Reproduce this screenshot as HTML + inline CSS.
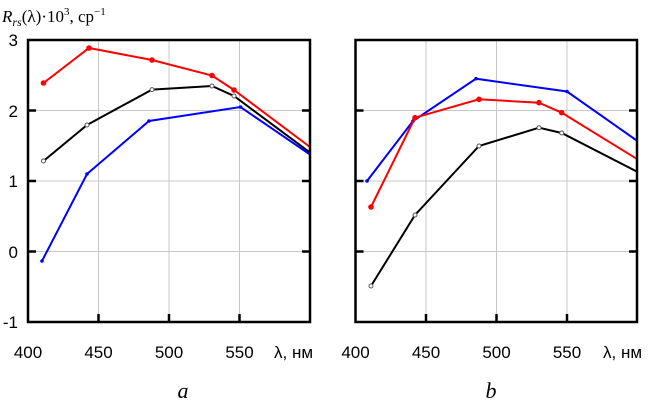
<!DOCTYPE html>
<html><head><meta charset="utf-8"><style>
html,body{margin:0;padding:0;background:#fff}
svg{display:block}
.s{font-family:"Liberation Sans",sans-serif}
.r{font-family:"Liberation Serif",serif}
</style></head><body>
<svg width="649" height="406" viewBox="0 0 649 406" xmlns="http://www.w3.org/2000/svg">
<!-- Panel a -->
<g>
<g stroke="#c8c8c8" stroke-width="1">
<line x1="98.5" y1="40" x2="98.5" y2="322"/><line x1="169" y1="40" x2="169" y2="322"/><line x1="239.5" y1="40" x2="239.5" y2="322"/>
<line x1="28" y1="110.5" x2="310" y2="110.5"/><line x1="28" y1="181" x2="310" y2="181"/><line x1="28" y1="251.5" x2="310" y2="251.5"/>
</g>
<g stroke="#000" stroke-width="2.5">
<line x1="28" y1="110.5" x2="36" y2="110.5"/><line x1="28" y1="181" x2="36" y2="181"/><line x1="28" y1="251.5" x2="36" y2="251.5"/>
<line x1="302" y1="110.5" x2="310" y2="110.5"/><line x1="302" y1="181" x2="310" y2="181"/><line x1="302" y1="251.5" x2="310" y2="251.5"/>
<line x1="98.5" y1="314" x2="98.5" y2="322"/><line x1="169" y1="314" x2="169" y2="322"/><line x1="239.5" y1="314" x2="239.5" y2="322"/>
</g>
<polyline fill="none" stroke="#f00" stroke-width="2" points="43.5,83 89,48 152,60 212,75.5 234,90 310,147"/>
<g fill="#f00"><circle cx="43.5" cy="83" r="2.8"/><circle cx="89" cy="48" r="2.8"/><circle cx="152" cy="60" r="2.8"/><circle cx="212" cy="75.5" r="2.8"/><circle cx="234" cy="90" r="2.8"/></g>
<polyline fill="none" stroke="#000" stroke-width="2" points="43.5,161 87,125 152,89.6 212,86 234,96 310,152.5"/>
<g fill="#fff" stroke="#555" stroke-width="1"><circle cx="43.5" cy="161" r="2"/><circle cx="87" cy="125" r="2"/><circle cx="152" cy="89.6" r="2"/><circle cx="212" cy="86" r="2"/><circle cx="234" cy="96" r="2"/></g>
<polyline fill="none" stroke="#00f" stroke-width="2" points="42,261 87,174 149,121 240.5,107 310,154.5"/>
<g fill="#00f"><circle cx="42" cy="261" r="1.8"/><circle cx="87" cy="174" r="1.8"/><circle cx="149" cy="121" r="1.8"/><circle cx="240.5" cy="107" r="1.8"/></g>
<rect x="28" y="40" width="282" height="282" fill="none" stroke="#000" stroke-width="2.5"/>
</g>
<!-- Panel b -->
<g>
<g stroke="#c8c8c8" stroke-width="1">
<line x1="426" y1="40" x2="426" y2="322"/><line x1="496.5" y1="40" x2="496.5" y2="322"/><line x1="567" y1="40" x2="567" y2="322"/>
<line x1="355.5" y1="110.5" x2="637" y2="110.5"/><line x1="355.5" y1="181" x2="637" y2="181"/><line x1="355.5" y1="251.5" x2="637" y2="251.5"/>
</g>
<g stroke="#000" stroke-width="2.5">
<line x1="355.5" y1="110.5" x2="363.5" y2="110.5"/><line x1="355.5" y1="181" x2="363.5" y2="181"/><line x1="355.5" y1="251.5" x2="363.5" y2="251.5"/>
<line x1="629" y1="110.5" x2="637" y2="110.5"/><line x1="629" y1="181" x2="637" y2="181"/><line x1="629" y1="251.5" x2="637" y2="251.5"/>
<line x1="426" y1="314" x2="426" y2="322"/><line x1="496.5" y1="314" x2="496.5" y2="322"/><line x1="567" y1="314" x2="567" y2="322"/>
</g>
<polyline fill="none" stroke="#00f" stroke-width="2" points="367,181 413,121 476,78.7 567,91.5 637,140.7"/>
<g fill="#00f"><circle cx="367" cy="181" r="1.8"/><circle cx="413" cy="121" r="1.8"/><circle cx="476" cy="78.7" r="1.8"/><circle cx="567" cy="91.5" r="1.8"/></g>
<polyline fill="none" stroke="#f00" stroke-width="2" points="371,207 415,117.7 479,99.3 539,102.7 561.7,112.7 637,159"/>
<g fill="#f00"><circle cx="371" cy="207" r="2.8"/><circle cx="415" cy="117.7" r="2.8"/><circle cx="479" cy="99.3" r="2.8"/><circle cx="539" cy="102.7" r="2.8"/><circle cx="561.7" cy="112.7" r="2.8"/></g>
<polyline fill="none" stroke="#000" stroke-width="2" points="371,286 415,215 479,146 539,127.7 561.7,133 637,171.7"/>
<g fill="#fff" stroke="#555" stroke-width="1"><circle cx="371" cy="286" r="2"/><circle cx="415" cy="215" r="2"/><circle cx="479" cy="146" r="2"/><circle cx="539" cy="127.7" r="2"/><circle cx="561.7" cy="133" r="2"/></g>
<rect x="355.5" y="40" width="281.5" height="282" fill="none" stroke="#000" stroke-width="2.5"/>
</g>
<!-- labels -->
<g class="s" font-size="17" fill="#000">
<text x="18" y="46" text-anchor="end">3</text>
<text x="18" y="117" text-anchor="end">2</text>
<text x="18" y="187" text-anchor="end">1</text>
<text x="18" y="258" text-anchor="end">0</text>
<text x="18" y="328" text-anchor="end">-1</text>
<text x="28" y="358" text-anchor="middle">400</text>
<text x="98.5" y="358" text-anchor="middle">450</text>
<text x="169" y="358" text-anchor="middle">500</text>
<text x="239.5" y="358" text-anchor="middle">550</text>
<text x="274" y="358">λ, нм</text>
<text x="355.5" y="358" text-anchor="middle">400</text>
<text x="426" y="358" text-anchor="middle">450</text>
<text x="496.5" y="358" text-anchor="middle">500</text>
<text x="567" y="358" text-anchor="middle">550</text>
<text x="603" y="358">λ, нм</text>
</g>
<text class="r" x="2" y="22" font-size="17"><tspan font-style="italic">R</tspan><tspan font-style="italic" font-size="12" dy="4">rs</tspan><tspan dy="-4">(λ)·10</tspan><tspan font-size="11" dy="-7">3</tspan><tspan dy="7">, ср</tspan><tspan font-size="11" dy="-7">−1</tspan></text>
<text class="r" x="183" y="398" font-style="italic" font-size="22" text-anchor="middle">a</text>
<text class="r" x="491" y="398" font-style="italic" font-size="22" text-anchor="middle">b</text>
</svg>
</body></html>
